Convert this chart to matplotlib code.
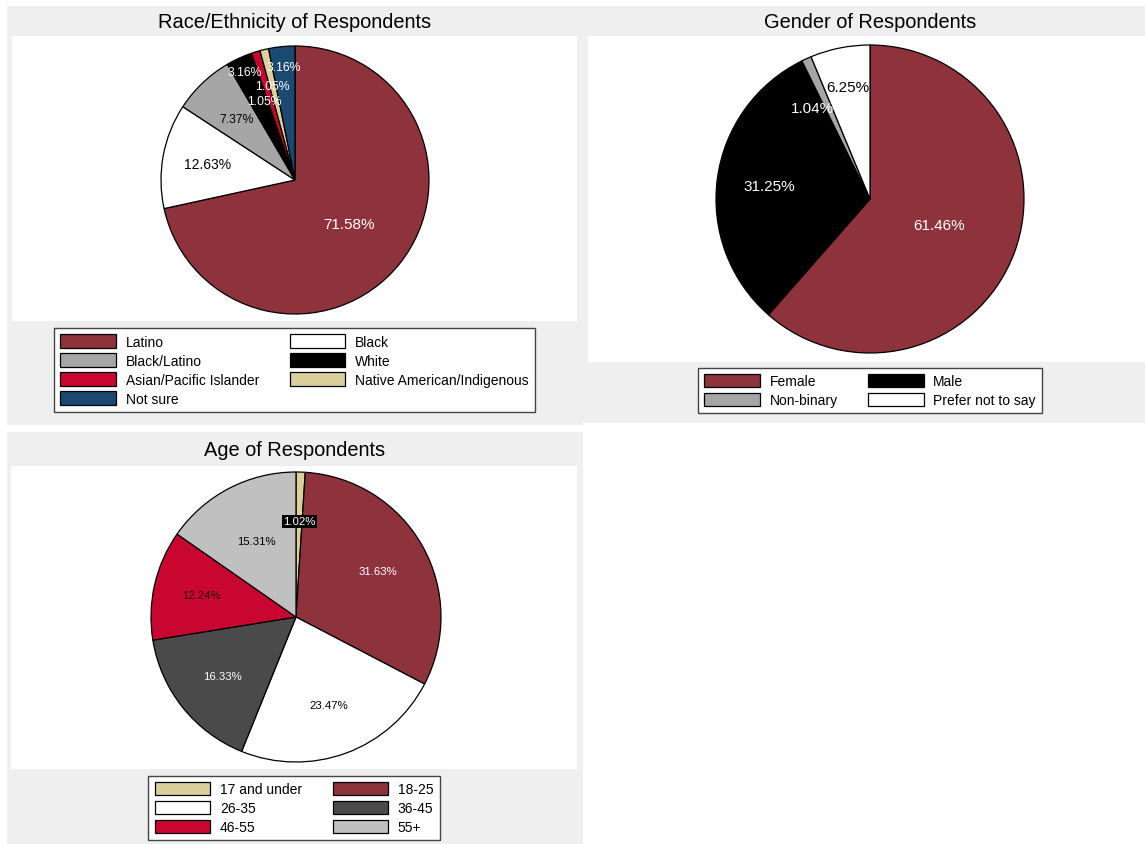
import numpy as np
import matplotlib.pyplot as plt
from matplotlib.patches import Rectangle

plt.rcParams['font.family'] = ['Liberation Sans', 'DejaVu Sans']

W, H = 1145, 845

# data
race_labels = ["Latino", "Black", "Black/Latino", "White", "Asian/Pacific Islander",
               "Native American/Indigenous", "Not sure"]
race_pct = [71.58, 12.63, 7.37, 3.16, 1.05, 1.05, 3.16]

gender_labels = ["Female", "Male", "Non-binary", "Prefer not to say"]
gender_pct = [61.46, 31.25, 1.04, 6.25]

age_labels = ["17 and under", "18-25", "26-35", "36-45", "46-55", "55+"]
age_pct = [1.02, 31.63, 23.47, 16.33, 12.24, 15.31]

# colours
MAROON = "#8e323c"
LGRAY = "#a6a6a6"
RED = "#c8062f"
TAN = "#d9d09b"
NAVY = "#1a4a72"
DGRAY = "#4a4a4a"
SILVER = "#c0c0c0"
PANEL = "#efefef"

# label styling: colour, distance from centre (fraction of radius),
# font size, small angular nudge (degrees) for crowded slices
race_colors = [MAROON, "white", LGRAY, "black", RED, TAN, NAVY]
race_text = ["white", "black", "black", "white", "white", "white", "white"]
race_dist = [0.52, 0.66, 0.63, 0.89, 0.63, 0.72, 0.85]
race_fs = [11, 10, 8.8, 8.8, 8.8, 8.8, 8.8]
race_nudge = [0, 0, 0, 0, 4, 0, 0]

gender_colors = [MAROON, "black", LGRAY, "white"]
gender_text = ["white", "white", "white", "black"]
gender_dist = [0.48, 0.66, 0.70, 0.74]
gender_fs = [11, 11, 11, 11]
gender_nudge = [0, 0, 8, 0]

age_colors = [TAN, MAROON, "white", DGRAY, RED, SILVER]
age_text = ["white", "white", "black", "white", "#2a0a10", "black"]
age_dist = [0.66, 0.65, 0.65, 0.65, 0.67, 0.59]
age_fs = [8.2] * 6
age_nudge = [0] * 6


def fig_rect(x0, y0, x1, y1):
    return [x0 / W, 1 - y1 / H, (x1 - x0) / W, (y1 - y0) / H]


def box(x0, y0, x1, y1, color, z):
    fig.add_artist(Rectangle((x0 / W, 1 - y1 / H), (x1 - x0) / W, (y1 - y0) / H,
                             transform=fig.transFigure, facecolor=color,
                             edgecolor="none", zorder=z))


def row_major(items, ncol=2):
    # Stata fills legend rows first, matplotlib fills columns first
    return [items[i] for c in range(ncol) for i in range(c, len(items), ncol)]


def pie_panel(gray, white, title, title_xy, center, r, pct, labels, colors,
              tcolors, dist, fsizes, nudge, legend_xy, boxed=None):
    box(*gray, PANEL, -3)
    box(*white, "white", -2)
    fig.text(title_xy[0] / W, 1 - title_xy[1] / H, title, ha="center",
             va="center", fontsize=14.4)
    cx, cy = center
    ax = fig.add_axes(fig_rect(cx - r, cy - r, cx + r, cy + r))
    wedges, _ = ax.pie(pct, colors=colors, startangle=90, counterclock=False,
                       wedgeprops=dict(edgecolor="black", linewidth=0.9,
                                       clip_on=False))
    ax.set_xlim(-1, 1)
    ax.set_ylim(-1, 1)
    ax.axis("off")
    for i, w in enumerate(wedges):
        ang = np.deg2rad((w.theta1 + w.theta2) / 2 + nudge[i])
        kw = {}
        if boxed == i:
            kw["bbox"] = dict(boxstyle="square,pad=0.12", facecolor="black",
                              edgecolor="none")
        ax.text(dist[i] * np.cos(ang), dist[i] * np.sin(ang), f"{pct[i]:.2f}%",
                ha="center", va="center", color=tcolors[i], fontsize=fsizes[i],
                **kw)
    fig.legend(row_major(wedges), row_major(labels), ncol=2, loc="center",
               bbox_to_anchor=(legend_xy[0] / W, 1 - legend_xy[1] / H),
               fontsize=10, frameon=True, fancybox=False, edgecolor="#444444",
               framealpha=1, handlelength=4, handleheight=1.1,
               labelspacing=0.33, handletextpad=0.7, columnspacing=2.2,
               borderpad=0.45)


fig = plt.figure(figsize=(W / 100, H / 100), dpi=100)

pie_panel((7, 7, 583, 426), (12, 37, 577, 322), "Race/Ethnicity of Respondents",
          (295, 22), (295, 181), 134, race_pct, race_labels, race_colors,
          race_text, race_dist, race_fs, race_nudge, (294.5, 371))

pie_panel((583, 7, 1145, 424), (588, 37, 1145, 363), "Gender of Respondents",
          (870, 22), (870, 200), 154, gender_pct, gender_labels, gender_colors,
          gender_text, gender_dist, gender_fs, gender_nudge, (870, 391.5))

pie_panel((7, 433, 583, 845), (11, 467, 577, 770), "Age of Respondents",
          (295, 451), (296, 618), 145, age_pct, age_labels, age_colors,
          age_text, age_dist, age_fs, age_nudge, (294, 809), boxed=0)

fig.savefig("out.png", dpi=100)
